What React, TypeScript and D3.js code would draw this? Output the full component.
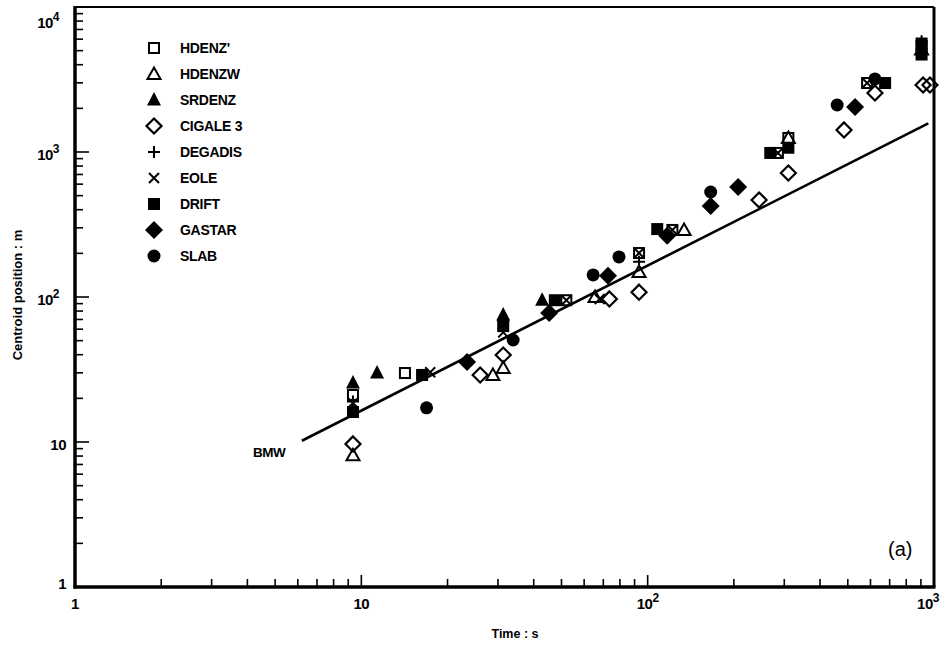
import React from "react";
import * as d3 from "d3";

// Time (s) vs centroid position (m) for each model
const HDENZ: [number, number][] = [[9.35, 21.1], [14.2, 29.9], [52, 95], [93.3, 201], [122, 290], [285, 985], [310, 1250], [584, 2990], [905, 5370]];
const HDENZW: [number, number][] = [[9.35, 8.1], [28.8, 29], [31.3, 32.4], [65.5, 100], [93.3, 149], [134, 290], [310, 1250], [905, 5100]];
const SRDENZ: [number, number][] = [[9.35, 25.5], [11.35, 29.9], [31.3, 75], [42.8, 95]];
const CIGALE3: [number, number][] = [[9.35, 9.7], [26, 29], [31.3, 39.8], [73.5, 97], [93.3, 108], [245, 467], [310, 716], [485, 1420], [622, 2550], [916, 2900], [968, 2900]];
const DEGADIS: [number, number][] = [[9.35, 19], [31.3, 68], [93.3, 175], [905, 5800]];
const EOLE: [number, number][] = [[9.35, 18.6], [17.4, 30.3], [31.3, 57], [52, 95], [68, 97], [93.3, 201], [122, 290], [285, 985], [584, 2990]];
const DRIFT: [number, number][] = [[9.35, 16.1], [16.3, 29], [31.3, 63], [47.4, 95], [108, 294], [268, 985], [310, 1070], [675, 2990], [905, 4700], [905, 5600]];
const GASTAR: [number, number][] = [[23.4, 35.6], [45.3, 77.6], [72.7, 140], [117, 265], [166, 424], [207, 574], [530, 2040]];
const SLAB: [number, number][] = [[16.9, 17.2], [33.9, 50.5], [64.5, 142], [79.4, 189], [166, 530], [459, 2110], [622, 3190]];

// BMW correlation line endpoints
const BMW: [number, number][] = [[6.2, 10.2], [955, 1575]];

const X_TICK_LABELS = [{ v: 1, b: "1", e: "" }, { v: 10, b: "10", e: "" }, { v: 100, b: "10", e: "2" }, { v: 1000, b: "10", e: "3" }];
const Y_TICK_LABELS = [{ v: 1, b: "1", e: "" }, { v: 10, b: "10", e: "" }, { v: 100, b: "10", e: "2" }, { v: 1000, b: "10", e: "3" }, { v: 10000, b: "10", e: "4" }];

type Kind = "sqOpen" | "triOpen" | "triFill" | "diaOpen" | "plus" | "cross" | "sqFill" | "diaFill" | "circle";

const SERIES: { name: string; kind: Kind; data: [number, number][] }[] = [
  { name: "HDENZ\u0027", kind: "sqOpen", data: HDENZ },
  { name: "HDENZW", kind: "triOpen", data: HDENZW },
  { name: "SRDENZ", kind: "triFill", data: SRDENZ },
  { name: "CIGALE 3", kind: "diaOpen", data: CIGALE3 },
  { name: "DEGADIS", kind: "plus", data: DEGADIS },
  { name: "EOLE", kind: "cross", data: EOLE },
  { name: "DRIFT", kind: "sqFill", data: DRIFT },
  { name: "GASTAR", kind: "diaFill", data: GASTAR },
  { name: "SLAB", kind: "circle", data: SLAB },
];

const DRAW_ORDER = ["CIGALE 3", "DRIFT", "GASTAR", "SLAB", "SRDENZ", "HDENZ\u0027", "HDENZW", "EOLE", "DEGADIS"];

const FONT = "'Liberation Sans', Arial, Helvetica, sans-serif";

function Marker({ kind, x, y }: { kind: Kind; x: number; y: number }) {
  const k = "#000";
  switch (kind) {
    case "sqOpen":
      return <rect x={x - 5} y={y - 5} width={10} height={10} fill="none" stroke={k} strokeWidth={2} />;
    case "sqFill":
      return <rect x={x - 6} y={y - 6} width={12} height={12} fill={k} />;
    case "triOpen":
      return <path d={`M${x},${y - 6.5}L${x + 6.5},${y + 5}L${x - 6.5},${y + 5}Z`} fill="none" stroke={k} strokeWidth={2} strokeLinejoin="miter" />;
    case "triFill":
      return <path d={`M${x},${y - 8}L${x + 7},${y + 5.5}L${x - 7},${y + 5.5}Z`} fill={k} />;
    case "diaOpen":
      return <path d={`M${x},${y - 7.5}L${x + 7.5},${y}L${x},${y + 7.5}L${x - 7.5},${y}Z`} fill="none" stroke={k} strokeWidth={2.2} />;
    case "diaFill":
      return <path d={`M${x},${y - 9}L${x + 9},${y}L${x},${y + 9}L${x - 9},${y}Z`} fill={k} />;
    case "circle":
      return <circle cx={x} cy={y} r={6.5} fill={k} />;
    case "plus":
      return <path d={`M${x - 6},${y}H${x + 6}M${x},${y - 6}V${y + 6}`} stroke={k} strokeWidth={2} />;
    case "cross":
      return <path d={`M${x - 5},${y - 5}L${x + 5},${y + 5}M${x + 5},${y - 5}L${x - 5},${y + 5}`} stroke={k} strokeWidth={2} />;
  }
}

export default function App() {
  const W = 942, H = 648;
  const left = 75, right = 934, top = 7, bottom = 587;
  const x = d3.scaleLog().domain([1, 1000]).range([left, right]);
  const y = d3.scaleLog().domain([1, 10000]).range([bottom, top]);

  const xTicks: number[] = [];
  for (let d = 1; d < 1000; d *= 10) for (let m = 1; m < 10; m++) xTicks.push(d * m);
  xTicks.push(1000);
  const yTicks: number[] = [];
  for (let d = 1; d < 10000; d *= 10) for (let m = 1; m < 10; m++) yTicks.push(d * m);
  yTicks.push(10000);

  const line = d3.line<[number, number]>().x((d) => x(d[0])).y((d) => y(d[1]));
  const ordered = DRAW_ORDER.map((n) => SERIES.find((s) => s.name === n)!);

  return (
    <svg width={W} height={H} style={{ position: "absolute", left: 0, top: 0, background: "#fff" }} fontFamily={FONT}>
      <rect width={W} height={H} fill="#fff" />
      {/* frame */}
      <line x1={left} x2={right} y1={top} y2={top} stroke="#000" strokeWidth={2} />
      <line x1={right} x2={right} y1={top} y2={bottom} stroke="#000" strokeWidth={3} />
      <line x1={left} x2={left} y1={top - 1} y2={bottom + 1.5} stroke="#000" strokeWidth={3.5} />
      <line x1={left - 1.5} x2={right + 1.5} y1={bottom} y2={bottom} stroke="#000" strokeWidth={3.5} />

      {/* inner ticks */}
      {xTicks.map((t, i) => {
        const major = Math.abs(Math.log10(t) - Math.round(Math.log10(t))) < 1e-9;
        if (t === 1 || t === 1000) return null;
        return <line key={"xt" + i} x1={x(t)} x2={x(t)} y1={bottom} y2={bottom - (major ? 12 : 8)} stroke="#000" strokeWidth={1.6} />;
      })}
      {yTicks.map((t, i) => {
        const major = Math.abs(Math.log10(t) - Math.round(Math.log10(t))) < 1e-9;
        if (t === 1 || t === 10000) return null;
        return <line key={"yt" + i} x1={left} x2={left + (major ? 14 : 8)} y1={y(t)} y2={y(t)} stroke="#000" strokeWidth={1.6} />;
      })}

      {/* tick labels */}
      {X_TICK_LABELS.map((l, i) => (
        <text key={"xl" + i} x={x(l.v) - (l.v === 1000 ? 6 : 0)} y={609} textAnchor="middle" fontSize={15} fontWeight="bold" letterSpacing={-0.5}>
          {l.b}
          {l.e && <tspan dy={-7} fontSize={12}>{l.e}</tspan>}
        </text>
      ))}
      {Y_TICK_LABELS.map((l, i) => (
        <text key={"yl" + i} x={l.e ? 59 : 66} y={l.v === 10000 ? 28 : l.v === 1 ? 589 : y(l.v) + 8} textAnchor="end" fontSize={15} fontWeight="bold" letterSpacing={-0.5}>
          {l.b}
          {l.e && <tspan dy={-7} fontSize={12}>{l.e}</tspan>}
        </text>
      ))}

      {/* axis titles */}
      <text x={515} y={638} textAnchor="middle" fontSize={12.5} fontWeight="bold">Time : s</text>
      <text transform="translate(22,295) rotate(-90)" textAnchor="middle" fontSize={13} fontWeight="bold">Centroid position : m</text>

      {/* BMW line */}
      <path d={line(BMW)!} fill="none" stroke="#000" strokeWidth={2.6} />
      <text x={253} y={457} fontSize={13.5} fontWeight="bold" letterSpacing={-0.5}>BMW</text>

      {/* data points */}
      {ordered.map((s) => (
        <g key={s.name}>
          {s.data.map((d, i) => (
            <Marker key={i} kind={s.kind} x={x(d[0])} y={y(d[1])} />
          ))}
        </g>
      ))}

      {/* legend */}
      {SERIES.map((s, i) => (
        <g key={"lg" + s.name}>
          <Marker kind={s.kind} x={154} y={48 + i * 26} />
          <text x={180} y={53 + i * 26} fontSize={14} fontWeight="bold" letterSpacing={-0.3}>{s.name}</text>
        </g>
      ))}

      <text x={888} y={556} fontSize={20}>(a)</text>
    </svg>
  );
}
